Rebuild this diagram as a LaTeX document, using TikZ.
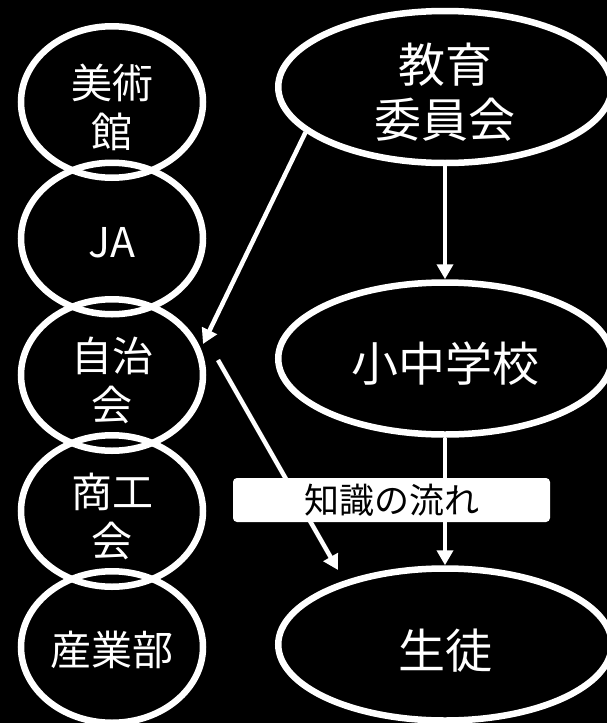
\documentclass[tikz,border=0pt]{standalone}
\usepackage{fontspec}
\newfontfamily\jpfont{Noto Sans CJK JP}
\usetikzlibrary{shapes.geometric,arrows.meta}
\begin{document}
\begin{tikzpicture}[x=1pt,y=-1pt,
  lell/.style={ellipse, draw=white, line width=6.5pt, minimum width=182pt, minimum height=151.5pt, inner sep=0pt},
  rell/.style={ellipse, draw=white, line width=6.5pt, minimum width=333.5pt, minimum height=152pt, inner sep=0pt},
  ltxt/.style={text=white, align=center, font=\jpfont\fontsize{41}{49}\selectfont, inner sep=0pt},
  rtxt/.style={text=white, align=center, font=\jpfont\fontsize{47}{55.5}\selectfont, inner sep=0pt},
  flow/.style={draw=white, line width=4.5pt, -{Triangle[width=16pt,length=15pt]}},
  tag/.style={fill=white, rounded corners=4pt, minimum width=317pt, minimum height=44pt, inner sep=0pt, text=black, font=\jpfont\fontsize{35}{40}\selectfont}
]
\path[use as bounding box, fill=black] (0,0) rectangle (607,723);

% left column
\node[lell] (bi) at (112,102) {};
\node[lell] (ja) at (112,238.5) {};
\node[lell] (jichi) at (112,375) {};
\node[lell] (sho) at (112,511) {};
\node[lell] (san) at (112,647) {};
\node[ltxt] (bit) at ([yshift=-5pt]bi.center) {美術\\館};
\node[ltxt] (jat) at ([yshift=-4pt]ja.center) {JA};
\node[ltxt] (jichit) at ([yshift=-5pt]jichi.center) {自治\\会};
\node[ltxt] (shot) at ([yshift=-5pt]sho.center) {商工\\会};
\node[ltxt] (sant) at ([yshift=-3pt]san.center) {産業部};

% right column
\node[rell] (kyo) at (445,87) {};
\node[rell] (gak) at (445,358.5) {};
\node[rell] (sei) at (445,644.5) {};
\node[rtxt] (kyot) at ([yshift=-5pt]kyo.center) {教育\\委員会};
\node[rtxt] (gakt) at ([yshift=-5pt]gak.center) {小中学校};
\node[rtxt] (seit) at ([yshift=-6pt]sei.center) {生徒};

% connectors
\draw[flow] (kyo.198.6) -- ([shift={(91,-31)}]jichi.center);
\draw[flow] ([shift={(106,-15)}]jichi.center) -- ([shift={(-107,-74.5)}]sei.center);
\draw[flow] (kyo.south) -- (gak.north);
\draw[flow] (gak.south) -- (sei.north);

% label
\node[tag] (flowlbl) at (391.5,500) {知識の流れ};
\end{tikzpicture}
\end{document}
